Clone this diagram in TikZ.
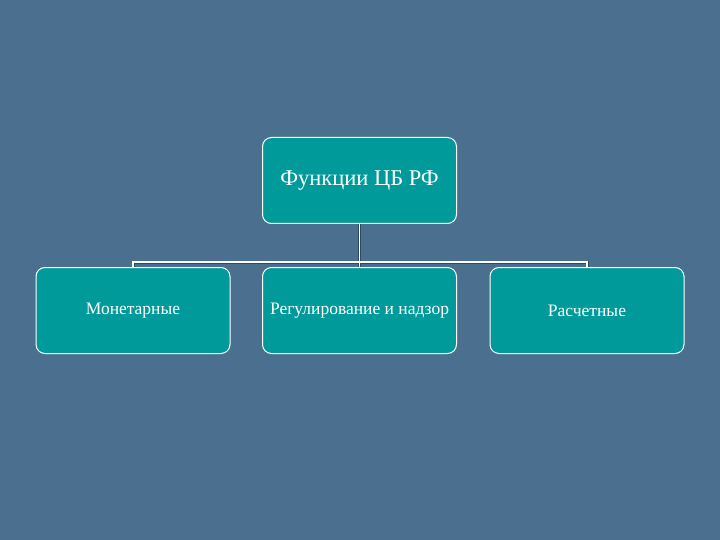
\documentclass[tikz,border=0pt]{standalone}
\usepackage{fontspec}
\setmainfont{Liberation Serif}
\begin{document}
\begin{tikzpicture}[x=1pt,y=-1pt,
  box/.style={draw=white,line width=1pt,fill=boxc,rounded corners=9pt,minimum width=194pt,minimum height=86pt,text=white,inner sep=0pt},
  small/.style={font=\fontsize{17.5}{20}\selectfont}]
\definecolor{bgc}{HTML}{4B6F8F}
\definecolor{boxc}{HTML}{009A9A}
\definecolor{lnc}{HTML}{2E4A60}
\fill[bgc] (0,0) rectangle (720,540);
\useasboundingbox (0,0) rectangle (720,540);
\node[box,font=\fontsize{22.5}{26}\selectfont] (top) at (359.5,180.5) {Функции ЦБ РФ};
\node[box,small] (a) at (133,310.5) {Монетарные};
\node[box,small] (b) at (359.5,310.5) {Регулирование и надзор};
\node[box,small] (c) at (587,310.5) {Расчетные};
\coordinate (j) at (359.5,262);
\draw[lnc,line width=3pt] (top.south) -- (b.north);
\draw[lnc,line width=3pt] (a.north) |- (j) -| (c.north);
\draw[white,line width=1.4pt] (top.south) -- (b.north);
\draw[white,line width=1.4pt] (a.north) |- (j) -| (c.north);
\end{tikzpicture}
\end{document}
